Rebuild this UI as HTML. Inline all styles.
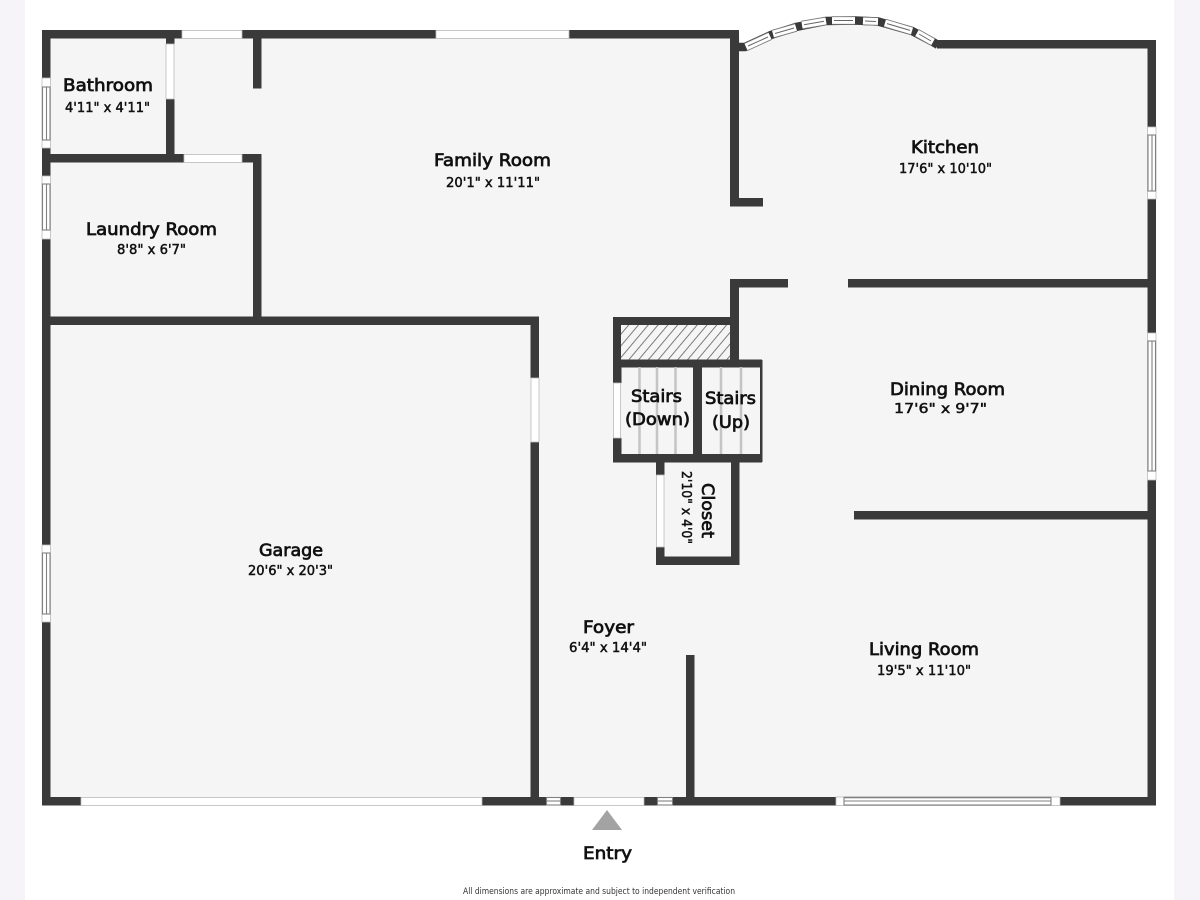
<!DOCTYPE html>
<html><head><meta charset="utf-8"><style>
html,body{margin:0;padding:0;background:#fff}
svg{display:block}
.n{font-family:"DejaVu Sans",sans-serif;font-size:17px;fill:#111;stroke:#111;stroke-width:.75px;text-anchor:start}
.d{font-family:"DejaVu Sans",sans-serif;font-size:13.5px;fill:#111;stroke:#111;stroke-width:.5px;text-anchor:start}
.w{fill:#3a3a3a}
.win{fill:#fff;stroke:#bbb;stroke-width:.8}
.fr{fill:#fff;stroke:#808080;stroke-width:1.1}
.line{stroke:#808080;stroke-width:1.1;fill:none}
.st{stroke:#c4c4c4;stroke-width:2.5}
</style></head><body>
<svg width="1200" height="900" viewBox="0 0 1200 900" xmlns="http://www.w3.org/2000/svg">
<defs><pattern id="h" width="7.5" height="9" patternUnits="userSpaceOnUse" patternTransform="rotate(40)"><rect width="7.5" height="9" fill="#f5f5f5"/><line x1="0" y1="0" x2="0" y2="9" stroke="#666" stroke-width="1.7"/></pattern></defs>
<rect width="1200" height="900" fill="#fff"/>
<rect x="0" y="0" width="25" height="900" fill="#f6f4f8"/>
<rect x="1174" y="0" width="26" height="900" fill="#f6f4f8"/>
<polygon fill="#f5f5f5" points="42,30 738,30 742,48 771,34 796,27 826,21 855,20 878,21 912,31 937,44 1156,44 1156,805 42,805"/>

<!-- bay window -->
<g fill="none" stroke-linecap="butt">
<polyline stroke="#3a3a3a" stroke-width="8.500" points="738,47 745,47 771,35 796,27 826,21 855,20.500 878,21.500 912,31 933,42 938,45"/>
<g stroke="#777" stroke-width="8.500">
<line x1="746" y1="47" x2="770" y2="36"/><line x1="773" y1="34" x2="796" y2="27.500"/><line x1="802" y1="25" x2="826" y2="21"/><line x1="832" y1="20.500" x2="855" y2="20.500"/><line x1="863" y1="21" x2="878" y2="21.500"/><line x1="885" y1="23" x2="912" y2="31"/><line x1="917" y1="33" x2="933" y2="42"/>
</g>
<g stroke="#fff" stroke-width="6.800">
<line x1="746" y1="47" x2="770" y2="36"/><line x1="773" y1="34" x2="796" y2="27.500"/><line x1="802" y1="25" x2="826" y2="21"/><line x1="832" y1="20.500" x2="855" y2="20.500"/><line x1="863" y1="21" x2="878" y2="21.500"/><line x1="885" y1="23" x2="912" y2="31"/><line x1="917" y1="33" x2="933" y2="42"/>
</g>
<g stroke="#666" stroke-width="1">
<line x1="748" y1="46" x2="768" y2="37"/><line x1="775" y1="33.500" x2="794" y2="28"/><line x1="804" y1="24.700" x2="824" y2="21.300"/><line x1="834" y1="20.500" x2="853" y2="20.500"/><line x1="865" y1="21" x2="876" y2="21.500"/><line x1="887" y1="23.600" x2="910" y2="30.400"/><line x1="919" y1="34" x2="931" y2="41"/>
</g>
</g>

<!-- walls -->
<g class="w">
<rect x="42" y="30" width="140" height="8.500"/>
<rect x="242" y="30" width="194" height="8.500"/>
<rect x="569" y="30" width="170" height="8.500"/>
<rect x="166" y="38" width="8.500" height="6"/>
<rect x="166" y="99" width="8.500" height="56"/>
<rect x="253" y="38" width="8.500" height="50.500"/>
<rect x="42" y="154" width="142" height="8.500"/>
<rect x="242" y="154" width="19.500" height="8.500"/>
<rect x="253" y="154" width="8.500" height="165"/>
<rect x="42" y="316.500" width="497" height="8.500"/>
<rect x="42" y="30" width="8.500" height="48"/>
<rect x="42" y="148" width="8.500" height="28"/>
<rect x="42" y="239" width="8.500" height="306"/>
<rect x="42" y="622" width="8.500" height="183"/>
<rect x="730" y="30" width="9" height="176"/>
<rect x="730" y="198" width="33" height="8.500"/>
<rect x="937" y="40" width="219" height="8.500"/>
<rect x="1147.500" y="40" width="8.500" height="87"/>
<rect x="1147.500" y="199" width="8.500" height="134"/>
<rect x="1147.500" y="480" width="8.500" height="325"/>
<rect x="730" y="279" width="58" height="8.500"/>
<rect x="848" y="279" width="300" height="8.500"/>
<rect x="730" y="279" width="9" height="82"/>
<rect x="854" y="511" width="294" height="8.500"/>
<rect x="613" y="317" width="117" height="8.500"/>
<rect x="613" y="317" width="8.500" height="66"/>
<rect x="613" y="438" width="8.500" height="24"/>
<rect x="613" y="359.500" width="149" height="8"/>
<rect x="693" y="360" width="9" height="102"/>
<rect x="613" y="454" width="149" height="8.500"/>
<rect x="760" y="360" width="2.500" height="102"/>
<rect x="656" y="462" width="8.500" height="13"/>
<rect x="656" y="547" width="8.500" height="18"/>
<rect x="656" y="556.500" width="83" height="8.500"/>
<rect x="731" y="462" width="8.500" height="103"/>
<rect x="530.500" y="317" width="8.500" height="61"/>
<rect x="530.500" y="442" width="8.500" height="356"/>
<rect x="686" y="655" width="8.500" height="142"/>
<rect x="42" y="797" width="39" height="8.500"/>
<rect x="482" y="797" width="64" height="8.500"/>
<rect x="561" y="797" width="13" height="8.500"/>
<rect x="644" y="797" width="13" height="8.500"/>
<rect x="673" y="797" width="163" height="8.500"/>
<rect x="1060" y="797" width="96" height="8.500"/>
</g>

<!-- plain openings -->
<g class="win">
<rect x="182" y="30.500" width="60" height="8"/>
<rect x="436" y="30.500" width="133" height="8"/>
<rect x="166" y="44" width="8" height="55"/>
<rect x="184" y="154.500" width="58" height="8"/>
<rect x="531" y="378" width="8" height="64"/>
<rect x="613.500" y="383" width="7" height="55"/>
<rect x="656.500" y="475" width="7.500" height="72"/>
<rect x="574" y="797.500" width="70" height="8"/>
<rect x="81" y="797.500" width="401" height="8"/>
</g>

<!-- framed windows -->
<g>
<rect class="win" x="42" y="78" width="8.500" height="70"/>
<rect class="fr" x="42.500" y="87" width="7.500" height="53"/><line class="line" x1="46.500" y1="87" x2="46.500" y2="140"/>
<rect class="win" x="42" y="176" width="8.500" height="63"/>
<rect class="fr" x="42.500" y="184" width="7.500" height="46"/><line class="line" x1="46.500" y1="184" x2="46.500" y2="230"/>
<rect class="win" x="42" y="545" width="8.500" height="77"/>
<rect class="fr" x="42.500" y="553" width="7.500" height="61"/><line class="line" x1="46.500" y1="553" x2="46.500" y2="614"/>
<rect class="win" x="1147.500" y="127" width="8.500" height="72"/>
<rect class="fr" x="1148" y="135" width="7.500" height="56"/><line class="line" x1="1152" y1="135" x2="1152" y2="191"/>
<rect class="win" x="1147.500" y="333" width="8.500" height="147"/>
<rect class="fr" x="1148" y="341" width="7.500" height="130"/><line class="line" x1="1152" y1="341" x2="1152" y2="471"/>
<rect class="win" x="836" y="797" width="224" height="8.500"/>
<rect class="fr" x="844" y="797.500" width="207" height="7.500"/><line class="line" x1="844" y1="801" x2="1051" y2="801"/>
<line x1="844" y1="797.500" x2="1051" y2="797.500" stroke="#808080" stroke-width="1.500"/>
<rect class="fr" x="546.500" y="797.500" width="14" height="7.500"/><line class="line" x1="546" y1="801" x2="561" y2="801"/>
<rect class="fr" x="657.500" y="797.500" width="15" height="7.500"/><line class="line" x1="657" y1="801" x2="673" y2="801"/>
</g>

<!-- hatch + stairs -->
<rect x="621" y="325" width="109" height="34.500" fill="url(#h)"/>
<g class="st">
<line x1="639.500" y1="367" x2="639.500" y2="454"/><line x1="657" y1="367" x2="657" y2="454"/><line x1="675.500" y1="367" x2="675.500" y2="454"/>
<line x1="721" y1="367" x2="721" y2="454"/><line x1="741" y1="367" x2="741" y2="454"/>
</g>

<!-- labels -->
<text class="n" x="63" y="91" textLength="90" lengthAdjust="spacingAndGlyphs">Bathroom</text>
<text class="d" x="65" y="112" textLength="85" lengthAdjust="spacingAndGlyphs">4'11" x 4'11"</text>
<text class="n" x="434" y="166" textLength="117" lengthAdjust="spacingAndGlyphs">Family Room</text>
<text class="d" x="446" y="187" textLength="94" lengthAdjust="spacingAndGlyphs">20'1" x 11'11"</text>
<text class="n" x="911" y="153" textLength="68" lengthAdjust="spacingAndGlyphs">Kitchen</text>
<text class="d" x="899" y="173" textLength="93" lengthAdjust="spacingAndGlyphs">17'6" x 10'10"</text>
<text class="n" x="86" y="235" textLength="131" lengthAdjust="spacingAndGlyphs">Laundry Room</text>
<text class="d" x="117" y="254" textLength="69" lengthAdjust="spacingAndGlyphs">8'8" x 6'7"</text>
<text class="n" x="890" y="395" textLength="115" lengthAdjust="spacingAndGlyphs">Dining Room</text>
<text class="d" x="894" y="413" textLength="93" lengthAdjust="spacingAndGlyphs">17'6" x 9'7"</text>
<text class="n" x="259" y="556" textLength="64" lengthAdjust="spacingAndGlyphs">Garage</text>
<text class="d" x="248" y="575" textLength="85" lengthAdjust="spacingAndGlyphs">20'6" x 20'3"</text>
<text class="n" x="583" y="633" textLength="51" lengthAdjust="spacingAndGlyphs">Foyer</text>
<text class="d" x="569" y="652" textLength="78" lengthAdjust="spacingAndGlyphs">6'4" x 14'4"</text>
<text class="n" x="869" y="655" textLength="110" lengthAdjust="spacingAndGlyphs">Living Room</text>
<text class="d" x="877" y="675" textLength="94" lengthAdjust="spacingAndGlyphs">19'5" x 11'10"</text>
<text class="n" x="631" y="402" textLength="51" lengthAdjust="spacingAndGlyphs">Stairs</text>
<text class="n" x="625" y="425" textLength="65" lengthAdjust="spacingAndGlyphs">(Down)</text>
<text class="n" x="705" y="404" textLength="51" lengthAdjust="spacingAndGlyphs">Stairs</text>
<text class="n" x="712" y="428" textLength="38" lengthAdjust="spacingAndGlyphs">(Up)</text>
<text class="n" transform="translate(702,483) rotate(90)" x="0" y="0" textLength="55" lengthAdjust="spacingAndGlyphs">Closet</text>
<text class="d" transform="translate(682,471) rotate(90)" x="0" y="0" textLength="73" lengthAdjust="spacingAndGlyphs">2'10" x 4'0"</text>

<polygon points="607,810 622,830 592,830" fill="#a3a3a3"/>
<text class="n" x="583" y="859" textLength="49" lengthAdjust="spacingAndGlyphs">Entry</text>
<text x="463" y="894" textLength="272" lengthAdjust="spacingAndGlyphs" font-family="'DejaVu Sans',sans-serif" font-size="8.500" fill="#333">All dimensions are approximate and subject to independent verification</text>
</svg>
</body></html>
